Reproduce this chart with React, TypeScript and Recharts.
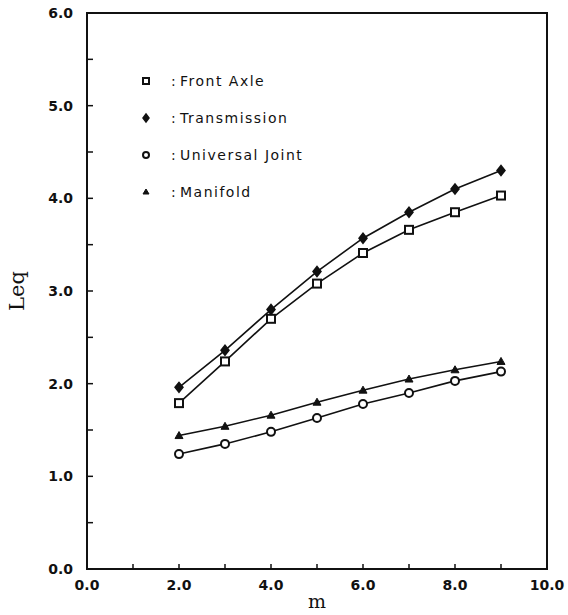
import React from "react";
import {
  LineChart,
  Line,
  XAxis,
  YAxis,
  ReferenceArea,
  Legend,
} from "recharts";

const mValues = [2, 3, 4, 5, 6, 7, 8, 9];
const frontAxle = [1.79, 2.24, 2.7, 3.08, 3.41, 3.66, 3.85, 4.03];
const transmission = [1.96, 2.36, 2.8, 3.21, 3.57, 3.85, 4.1, 4.3];
const universalJoint = [1.24, 1.35, 1.48, 1.63, 1.78, 1.9, 2.03, 2.13];
const manifold = [1.44, 1.54, 1.66, 1.8, 1.93, 2.05, 2.15, 2.24];

const xTicks = [0, 1, 2, 3, 4, 5, 6, 7, 8, 9, 10];
const yTicks = [0, 0.5, 1, 1.5, 2, 2.5, 3, 3.5, 4, 4.5, 5, 5.5, 6];

const data = mValues.map((m, i) => ({
  m,
  frontAxle: frontAxle[i],
  transmission: transmission[i],
  universalJoint: universalJoint[i],
  manifold: manifold[i],
}));

const INK = "#111";
const TICK_FONT = { fontFamily: "DejaVu Sans", fontWeight: "bold", fontSize: 14, fill: INK } as const;

type Shape = "square" | "diamond" | "circle" | "triangle";

function marker(shape: Shape, cx: number, cy: number, key?: string, s = 4) {
  if (shape === "square")
    return <rect key={key} x={cx - s} y={cy - s} width={2 * s} height={2 * s} fill="#fff" stroke={INK} strokeWidth={2} />;
  if (shape === "diamond")
    return (
      <polygon
        key={key}
        points={`${cx},${cy - s - 1} ${cx + s},${cy} ${cx},${cy + s + 1} ${cx - s},${cy}`}
        fill={INK}
        stroke={INK}
        strokeWidth={1.5}
      />
    );
  if (shape === "circle")
    return <circle key={key} cx={cx} cy={cy} r={s} fill="#fff" stroke={INK} strokeWidth={2} />;
  return (
    <polygon
      key={key}
      points={`${cx},${cy - s} ${cx + s},${cy + s - 1} ${cx - s},${cy + s - 1}`}
      fill={INK}
      stroke={INK}
      strokeWidth={1}
    />
  );
}

const dot = (shape: Shape) => (props: any) => marker(shape, props.cx, props.cy, `${shape}-${props.index}`);

const XTick = (props: any) => {
  const { x, y, payload } = props;
  const v = payload.value;
  return (
    <g>
      <line x1={x} x2={x} y1={y} y2={y - 5} stroke={INK} strokeWidth={1.5} />
      {v % 2 === 0 && (
        <text x={x} y={y + 21} textAnchor="middle" {...TICK_FONT}>
          {v.toFixed(1)}
        </text>
      )}
    </g>
  );
};

const YTick = (props: any) => {
  const { x, y, payload } = props;
  const v = payload.value;
  return (
    <g>
      <line x1={x} x2={x + 6} y1={y} y2={y} stroke={INK} strokeWidth={1.5} />
      {Number.isInteger(v) && (
        <text x={x - 14} y={y + 5} textAnchor="end" {...TICK_FONT}>
          {v.toFixed(1)}
        </text>
      )}
    </g>
  );
};

const legendItems: { label: string; shape: Shape }[] = [
  { label: "Front Axle", shape: "square" },
  { label: "Transmission", shape: "diamond" },
  { label: "Universal Joint", shape: "circle" },
  { label: "Manifold", shape: "triangle" },
];

const renderLegend = () => (
  <svg width={220} height={150}>
    {legendItems.map((it, i) => {
      const cy = 12 + i * 37;
      return (
        <g key={it.label}>
          {marker(it.shape, 8, cy, undefined, 3)}
          <text x={33} y={cy + 5} fontFamily="DejaVu Sans" fontSize={14} fill={INK}>
            :
          </text>
          <text x={42} y={cy + 5} fontFamily="DejaVu Sans" fontSize={14} letterSpacing={1.5} fill={INK}>
            {it.label}
          </text>
        </g>
      );
    })}
  </svg>
);

export default function App() {
  return (
    <div style={{ position: "absolute", left: 0, top: 0, background: "#fff" }}>
      <LineChart width={568} height={615} data={data} margin={{ top: 13, right: 21, bottom: 0, left: 27 }}>
        <XAxis
          dataKey="m"
          type="number"
          domain={[0, 10]}
          ticks={xTicks}
          interval={0}
          tickLine={false}
          tickSize={0}
          tickMargin={0}
          axisLine={{ stroke: INK, strokeWidth: 2 }}
          tick={<XTick />}
          height={46}
          label={{ value: "m", position: "insideBottom", offset: 7, style: { fontFamily: "DejaVu Serif", fontSize: 19, fill: INK } }}
        />
        <YAxis
          type="number"
          domain={[0, 6]}
          ticks={yTicks}
          interval={0}
          tickLine={false}
          tickSize={0}
          tickMargin={0}
          width={60}
          axisLine={{ stroke: INK, strokeWidth: 2 }}
          tick={<YTick />}
          label={{ value: "Leq", angle: -90, position: "insideLeft", offset: -10, style: { fontFamily: "DejaVu Serif", fontSize: 21, fill: INK, textAnchor: "middle" } }}
        />
        <ReferenceArea x1={0} x2={10} y1={0} y2={6} fill="none" stroke={INK} strokeWidth={2} ifOverflow="visible" />
        <Legend
          layout="horizontal"
          verticalAlign="middle"
          align="center"
          content={renderLegend}
          wrapperStyle={{ left: 138, top: 69, width: 220 }}
        />
        <Line dataKey="frontAxle" stroke={INK} strokeWidth={1.6} dot={dot("square")} isAnimationActive={false} />
        <Line dataKey="transmission" stroke={INK} strokeWidth={1.6} dot={dot("diamond")} isAnimationActive={false} />
        <Line dataKey="universalJoint" stroke={INK} strokeWidth={1.6} dot={dot("circle")} isAnimationActive={false} />
        <Line dataKey="manifold" stroke={INK} strokeWidth={1.6} dot={dot("triangle")} isAnimationActive={false} />
      </LineChart>
    </div>
  );
}
